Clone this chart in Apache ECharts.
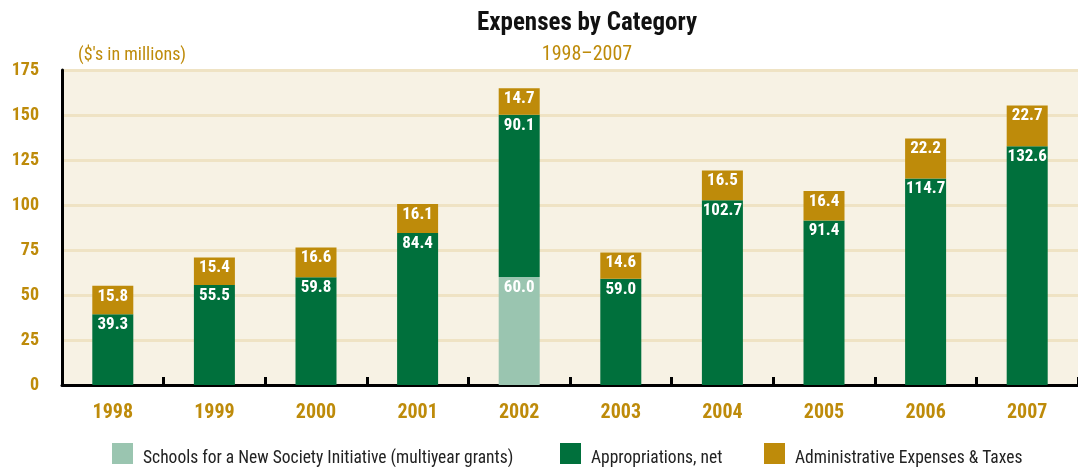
<!DOCTYPE html>
<html>
<head>
<meta charset="utf-8">
<script src="https://cdn.jsdelivr.net/npm/echarts@6/dist/echarts.min.js"></script>
<style>
html, body { margin: 0; padding: 0; background: #fff; }
#chart { width: 1078px; height: 467px; }
</style>
</head>
<body>
<div id="chart"></div>
<script>
var years = ['1998', '1999', '2000', '2001', '2002', '2003', '2004', '2005', '2006', '2007'];
var schools = [null, null, null, null, 60.0, null, null, null, null, null];
var appropriations = [39.3, 55.5, 59.8, 84.4, 90.1, 59.0, 102.7, 91.4, 114.7, 132.6];
var admin = [15.8, 15.4, 16.6, 16.1, 14.7, 14.6, 16.5, 16.4, 22.2, 22.7];

var FONT = '"Roboto Condensed", Roboto, sans-serif';
var GOLD = '#BE8B0A';
var GREEN = '#00703C';
var LIGHT = '#9AC5B0';

var myChart = echarts.init(document.getElementById('chart'));

var barLabel = {
    show: true,
    position: 'insideTop',
    distance: 2,
    color: '#fff',
    fontFamily: FONT,
    fontWeight: 'bold',
    fontSize: 17,
    formatter: function (p) { return p.value == null ? '' : p.value.toFixed(1); }
};

function legendAt(left, name) {
    return {
        left: left,
        top: 443,
        padding: 0,
        itemWidth: 21,
        itemHeight: 21,
        itemGap: 0,
        icon: 'rect',
        selectedMode: false,
        data: [name],
        formatter: '{a|{name}}',
        textStyle: {
            fontFamily: FONT, fontSize: 17.5, color: '#222',
            rich: { a: { fontFamily: FONT, fontSize: 17.5, color: '#222', padding: [10, 0, 0, 5] } }
        }
    };
}

var option = {
    animation: false,
    textStyle: { fontFamily: FONT },
    title: [{
        text: 'Expenses by Category',
        left: 587,
        textAlign: 'center',
        top: 11,
        padding: 0,
        textStyle: { fontFamily: FONT, fontWeight: 'bold', fontSize: 25, color: '#111' }
    }, {
        text: '1998\u20132007',
        left: 587,
        textAlign: 'center',
        top: 45,
        padding: 0,
        textStyle: { fontFamily: FONT, fontWeight: 'normal', fontSize: 20, color: GOLD }
    }, {
        text: "($'s in millions)",
        left: 78,
        top: 46,
        padding: 0,
        textStyle: { fontFamily: FONT, fontWeight: 'normal', fontSize: 18, color: GOLD }
    }],
    legend: [
        legendAt(112, 'Schools for a New Society Initiative (multiyear grants)'),
        legendAt(560, 'Appropriations, net'),
        legendAt(764, 'Administrative Expenses & Taxes')
    ],
    grid: {
        left: 62,
        right: -2,
        top: 70,
        bottom: 82,
        show: true,
        backgroundColor: '#F7F2E4',
        borderWidth: 0
    },
    xAxis: {
        type: 'category',
        data: years,
        axisLine: { lineStyle: { color: '#000', width: 3 } },
        axisTick: { show: true, inside: true, length: 8, lineStyle: { color: '#000', width: 3 } },
        axisLabel: { color: GOLD, fontFamily: FONT, fontWeight: 'bold', fontSize: 20, margin: 18 }
    },
    yAxis: {
        type: 'value',
        min: 0,
        max: 175,
        interval: 25,
        axisLine: { show: true, lineStyle: { color: '#000', width: 3 } },
        axisTick: { show: false },
        axisLabel: { color: GOLD, fontFamily: FONT, fontWeight: 'bold', fontSize: 18, margin: 23 },
        splitLine: { lineStyle: { color: '#EFE3C4', width: 3 } }
    },
    series: [{
        name: 'Schools for a New Society Initiative (multiyear grants)',
        type: 'bar',
        stack: 'total',
        barWidth: 41,
        itemStyle: { color: LIGHT },
        label: barLabel,
        data: schools
    }, {
        name: 'Appropriations, net',
        type: 'bar',
        stack: 'total',
        barWidth: 41,
        itemStyle: { color: GREEN },
        label: barLabel,
        data: appropriations
    }, {
        name: 'Administrative Expenses & Taxes',
        type: 'bar',
        stack: 'total',
        barWidth: 41,
        itemStyle: { color: GOLD },
        label: barLabel,
        data: admin
    }]
};
myChart.setOption(option);
</script>
</body>
</html>
